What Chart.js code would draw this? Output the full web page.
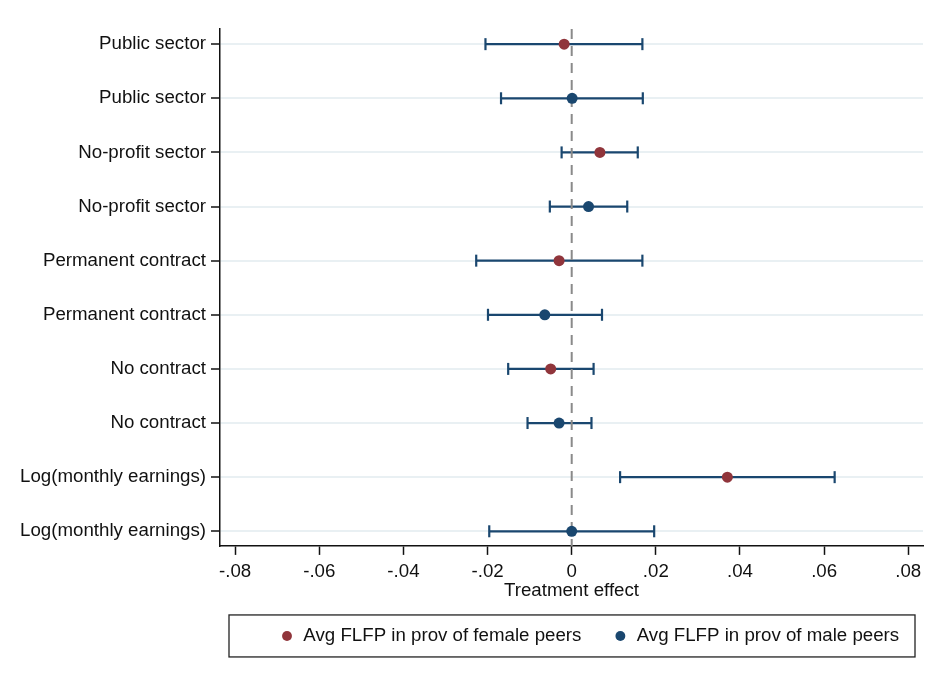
<!DOCTYPE html>
<html>
<head>
    <title>Treatment effect</title>
    <script src="https://cdn.jsdelivr.net/npm/chart.js"></script>
    <style>
        body { margin: 0; background: #fff; }
        #wrap { width: 937px; height: 686px; }
    </style>
</head>
<body>
    <div id="wrap"><canvas id="coefChart"></canvas></div>

    <script>
        // rows from top to bottom
        var rowLabels = ['Public sector', 'Public sector', 'No-profit sector', 'No-profit sector',
            'Permanent contract', 'Permanent contract', 'No contract', 'No contract',
            'Log(monthly earnings)', 'Log(monthly earnings)'];
        var rowGroup = ['female', 'male', 'female', 'male', 'female', 'male', 'female', 'male', 'female', 'male'];
        var estimate = [-0.0018, 0.0001, 0.0067, 0.0040, -0.0030, -0.0064, -0.0050, -0.0030, 0.0370, 0.0000];
        var ciLow = [-0.0205, -0.0168, -0.0024, -0.0052, -0.0227, -0.0199, -0.0151, -0.0105, 0.0115, -0.0196];
        var ciHigh = [0.0168, 0.0169, 0.0157, 0.0132, 0.0168, 0.0072, 0.0052, 0.0047, 0.0625, 0.0196];
        var xTicks = [-0.08, -0.06, -0.04, -0.02, 0, 0.02, 0.04, 0.06, 0.08];
        var legendNames = { female: 'Avg FLFP in prov of female peers', male: 'Avg FLFP in prov of male peers' };

        var navy = '#1a476f';
        var maroon = '#90353b';
        var fontFam = "'Liberation Sans', Arial, sans-serif";
        var fs = 18.7;
        var legPad = 32;

        function pointsFor(g) {
            var out = [];
            for (var i = 0; i < estimate.length; i++) {
                if (rowGroup[i] === g) out.push({ x: estimate[i], y: i + 1 });
            }
            return out;
        }

        var datasets = [
            { label: legendNames.female, data: pointsFor('female'), backgroundColor: maroon, borderColor: maroon,
              pointRadius: 5.5, pointBorderWidth: 0, showLine: false },
            { label: legendNames.male, data: pointsFor('male'), backgroundColor: navy, borderColor: navy,
              pointRadius: 5.5, pointBorderWidth: 0, showLine: false },
            // zero reference line
            { label: 'zero', data: [{ x: 0, y: 0.72 }, { x: 0, y: 10.27 }], showLine: true,
              borderColor: '#8a8a8a', borderWidth: 2, borderDash: [10, 7], pointRadius: 0 }
        ];
        // confidence intervals, one small line per row
        for (var i = 0; i < rowLabels.length; i++) {
            datasets.push({
                label: 'ci' + i,
                data: [{ x: ciLow[i], y: i + 1 }, { x: ciHigh[i], y: i + 1 }],
                showLine: true,
                borderColor: navy,
                borderWidth: 2.2,
                pointStyle: 'line',
                rotation: 90,
                pointRadius: 6,
                pointBorderWidth: 2.2,
                pointBorderColor: navy
            });
        }

        // box around the legend, stata style; also nudge legend items to the right
        var legendBox = {
            id: 'legendBox',
            beforeDraw: function (chart) {
                chart.legend.left = chart.chartArea.left + 28;
                chart.legend.right = chart.chartArea.right + 40;
            },
            afterDraw: function (chart) {
                var lg = chart.legend, ca = chart.chartArea;
                var cy = lg.top + legPad + fs / 2;
                var ctx = chart.ctx;
                ctx.save();
                ctx.strokeStyle = '#222';
                ctx.lineWidth = 1.3;
                ctx.strokeRect(ca.left + 9, cy - 21, (ca.right - 8) - (ca.left + 9), 42);
                ctx.restore();
            }
        };

        var ctx = document.getElementById('coefChart').getContext('2d');
        var chart = new Chart(ctx, {
            type: 'scatter',
            data: { datasets: datasets },
            options: {
                responsive: true,
                maintainAspectRatio: false,
                animation: false,
                layout: { padding: { top: 29, right: 14, bottom: 30.7, left: 0 } },
                plugins: {
                    tooltip: { enabled: false },
                    legend: {
                        position: 'bottom',
                        fullSize: false,
                        align: 'start',
                        labels: {
                            filter: function (item) { return item.datasetIndex < 2; },
                            usePointStyle: true,
                            pointStyle: 'circle',
                            boxWidth: 14,
                            boxHeight: 7,
                            padding: legPad,
                            color: '#111',
                            font: { family: fontFam, size: fs }
                        }
                    }
                },
                scales: {
                    x: {
                        type: 'linear',
                        min: -0.0836,
                        max: 0.0835,
                        afterBuildTicks: function (s) { s.ticks = xTicks.map(function (v) { return { value: v }; }); },
                        afterFit: function (s) { s.height = 48.7; },
                        ticks: {
                            padding: 6,
                            color: '#111',
                            font: { family: fontFam, size: fs },
                            callback: function (v) {
                                if (v === 0) return '0';
                                return (v < 0 ? '-' : '') + Math.abs(v).toFixed(2).slice(1);
                            }
                        },
                        grid: { drawOnChartArea: false, tickLength: 9, tickColor: '#111', tickWidth: 1.5 },
                        border: { display: true, color: '#111', width: 1.5 },
                        title: {
                            display: true,
                            text: 'Treatment effect',
                            color: '#111',
                            font: { family: fontFam, size: fs },
                            padding: { top: 0, bottom: -7.5 }
                        }
                    },
                    y: {
                        type: 'linear',
                        reverse: true,
                        min: 0.72,
                        max: 10.27,
                        afterBuildTicks: function (s) { s.ticks = rowLabels.map(function (l, i) { return { value: i + 1 }; }); },
                        afterFit: function (s) { s.width = 220; },
                        ticks: {
                            padding: 5,
                            color: '#111',
                            font: { family: fontFam, size: fs },
                            callback: function (v) { return rowLabels[v - 1]; }
                        },
                        grid: { color: '#e9f0f3', lineWidth: 2, tickLength: 9, tickColor: '#111', tickWidth: 1.5 },
                        border: { display: true, color: '#111', width: 1.5 }
                    }
                }
            },
            plugins: [legendBox]
        });
    </script>
</body>
</html>
